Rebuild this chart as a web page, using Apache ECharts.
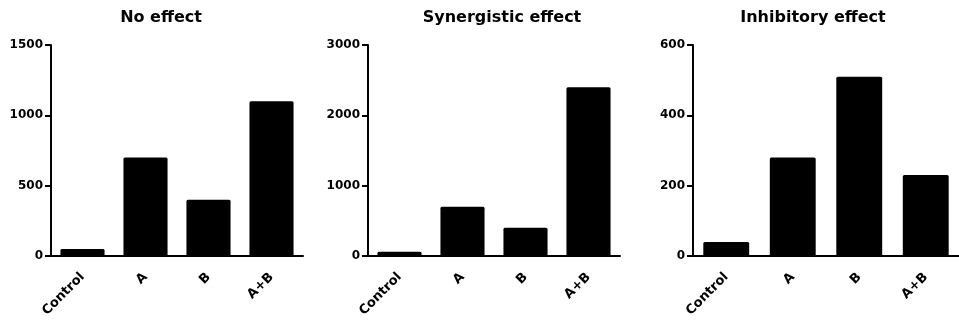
<!DOCTYPE html>
<html>
<head>
<meta charset="utf-8">
<script src="https://cdn.jsdelivr.net/npm/echarts@6/dist/echarts.min.js"></script>
<style>
  html, body { margin: 0; padding: 0; background: #fff; }
  #container { width: 959px; height: 320px; }
</style>
</head>
<body>
<div id="container"></div>
<script>
// 数据
const categories = ['Control', 'A', 'B', 'A+B'];
const titles = ['No effect', 'Synergistic effect', 'Inhibitory effect'];
const noEffect = [50, 700, 400, 1100];
const synergistic = [60, 700, 400, 2400];
const inhibitory = [40, 280, 510, 230];
const yMax = [1500, 3000, 600];
const yStep = [500, 1000, 200];

const FONT = 'DejaVu Sans';

// 三个面板的位置
const panels = [
    { left: 51, width: 252, titleX: 156, gap: '30%' },
    { left: 368, width: 252, titleX: 497, gap: '30%' },
    { left: 693, width: 272, titleX: 808, gap: '31%' }
];
const seriesData = [noEffect, synergistic, inhibitory];

let dom = document.getElementById('container');
let myChart = echarts.init(dom);

let option = {
    backgroundColor: '#fff',
    animation: false,
    title: panels.map(function (p, i) {
        return {
            text: titles[i],
            left: p.titleX,
            top: 5,
            textAlign: 'center',
            textStyle: { fontFamily: FONT, fontWeight: 'bold', fontSize: 16, color: '#000' }
        };
    }),
    grid: panels.map(function (p) {
        return { left: p.left, top: 45, width: p.width, height: 211 };
    }),
    xAxis: panels.map(function (p, i) {
        return {
            type: 'category',
            gridIndex: i,
            data: categories,
            axisLine: { lineStyle: { color: '#000', width: 2 } },
            axisTick: { alignWithLabel: true, length: 5, lineStyle: { color: '#000', width: 2 } },
            axisLabel: {
                rotate: 45,
                margin: 19,
                color: '#000',
                fontFamily: FONT,
                fontWeight: 'bold',
                fontSize: 13
            }
        };
    }),
    yAxis: panels.map(function (p, i) {
        return {
            type: 'value',
            gridIndex: i,
            min: 0,
            max: yMax[i],
            interval: yStep[i],
            splitLine: { show: false },
            axisLine: { show: true, lineStyle: { color: '#000', width: 2 } },
            axisTick: { show: true, inside: false, length: 6, lineStyle: { color: '#000', width: 2 } },
            axisLabel: {
                margin: 8,
                color: '#000',
                fontFamily: FONT,
                fontWeight: 'bold',
                fontSize: 12,
                formatter: function (v) { return String(v); }
            }
        };
    }),
    series: panels.map(function (p, i) {
        return {
            type: 'bar',
            xAxisIndex: i,
            yAxisIndex: i,
            data: seriesData[i],
            barCategoryGap: p.gap,
            itemStyle: { color: '#000', borderRadius: [1.5, 1.5, 0, 0] }
        };
    })
};

myChart.setOption(option, true);
</script>
</body>
</html>
